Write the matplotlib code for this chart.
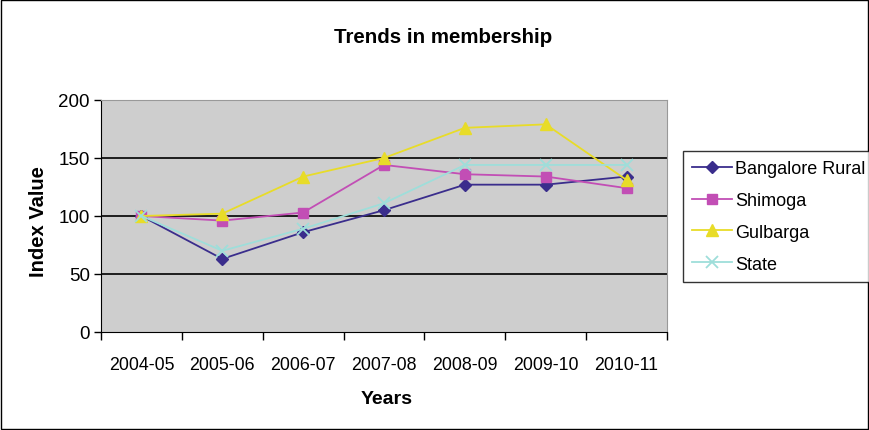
import matplotlib
matplotlib.use("Agg")
import matplotlib.pyplot as plt
from matplotlib.patches import Rectangle

plt.rcParams['font.family'] = ['Liberation Sans', 'DejaVu Sans']

years = ["2004-05", "2005-06", "2006-07", "2007-08", "2008-09", "2009-10", "2010-11"]
bangalore_rural = [100, 63, 86, 105, 127, 127, 134]
shimoga = [100, 96, 103, 144, 136, 134, 124]
gulbarga = [100, 102, 134, 150, 176, 179, 131]
state = [100, 70, 89, 111, 144, 144, 144]

fig = plt.figure(figsize=(8.7, 4.31), dpi=100)
fig.patch.set_facecolor("white")
fig.add_artist(Rectangle((0.001, 0.002), 0.997, 0.995, transform=fig.transFigure,
                         fill=False, edgecolor="black", linewidth=1.0))

ax = fig.add_axes([0.1161, 0.2274, 0.6506, 0.5383])
ax.set_facecolor("#CECECE")
x = list(range(len(years)))

ax.plot(x, bangalore_rural, color="#3A2D8C", marker="D", markersize=6, linewidth=1.3, label="Bangalore Rural")
ax.plot(x, shimoga, color="#C24EB5", marker="s", markersize=6.5, linewidth=1.3, label="Shimoga")
ax.plot(x, gulbarga, color="#E8DC28", marker="^", markersize=8, linewidth=1.3, label="Gulbarga")
ax.plot(x, state, color="#9EDEDA", marker="x", markersize=8, markeredgewidth=1.3, linewidth=1.3, label="State")

ax.set_xlim(-0.5, len(years) - 0.5)
ax.set_ylim(0, 200)
ax.set_yticks([0, 50, 100, 150, 200])
ax.set_xticks(x)
ax.set_xticklabels(years)
ax.set_xticks([i + 0.5 for i in range(-1, len(years))], minor=True)
ax.tick_params(axis="x", which="major", length=0, pad=17, labelsize=12.8)
ax.tick_params(axis="x", which="minor", length=6, width=1, direction="out", color="black")
ax.tick_params(axis="y", length=5, width=1, labelsize=13.5, pad=3)
for yv in [50, 100, 150]:
    ax.axhline(yv, color="black", linewidth=1.2, zorder=1)
for side in ["top", "right"]:
    ax.spines[side].set_color("#999999")
for side in ["left", "bottom"]:
    ax.spines[side].set_color("black")

fig.text(0.509, 0.914, "Trends in membership", ha="center", va="center", fontsize=14.8, fontweight="bold")
fig.text(0.044, 0.487, "Index Value", ha="center", va="center", rotation=90, fontsize=14.5, fontweight="bold")
fig.text(0.444, 0.072, "Years", ha="center", va="center", fontsize=14, fontweight="bold")

leg = fig.legend(loc="upper left", bbox_to_anchor=(0.785, 0.647), bbox_transform=fig.transFigure,
                 borderaxespad=0, frameon=True, fancybox=False, edgecolor="black", fontsize=13,
                 handlelength=2.2, handletextpad=0.2, labelspacing=0.82, borderpad=0.5)
leg.get_frame().set_linewidth(1.0)

fig.savefig("out.png", dpi=100)
